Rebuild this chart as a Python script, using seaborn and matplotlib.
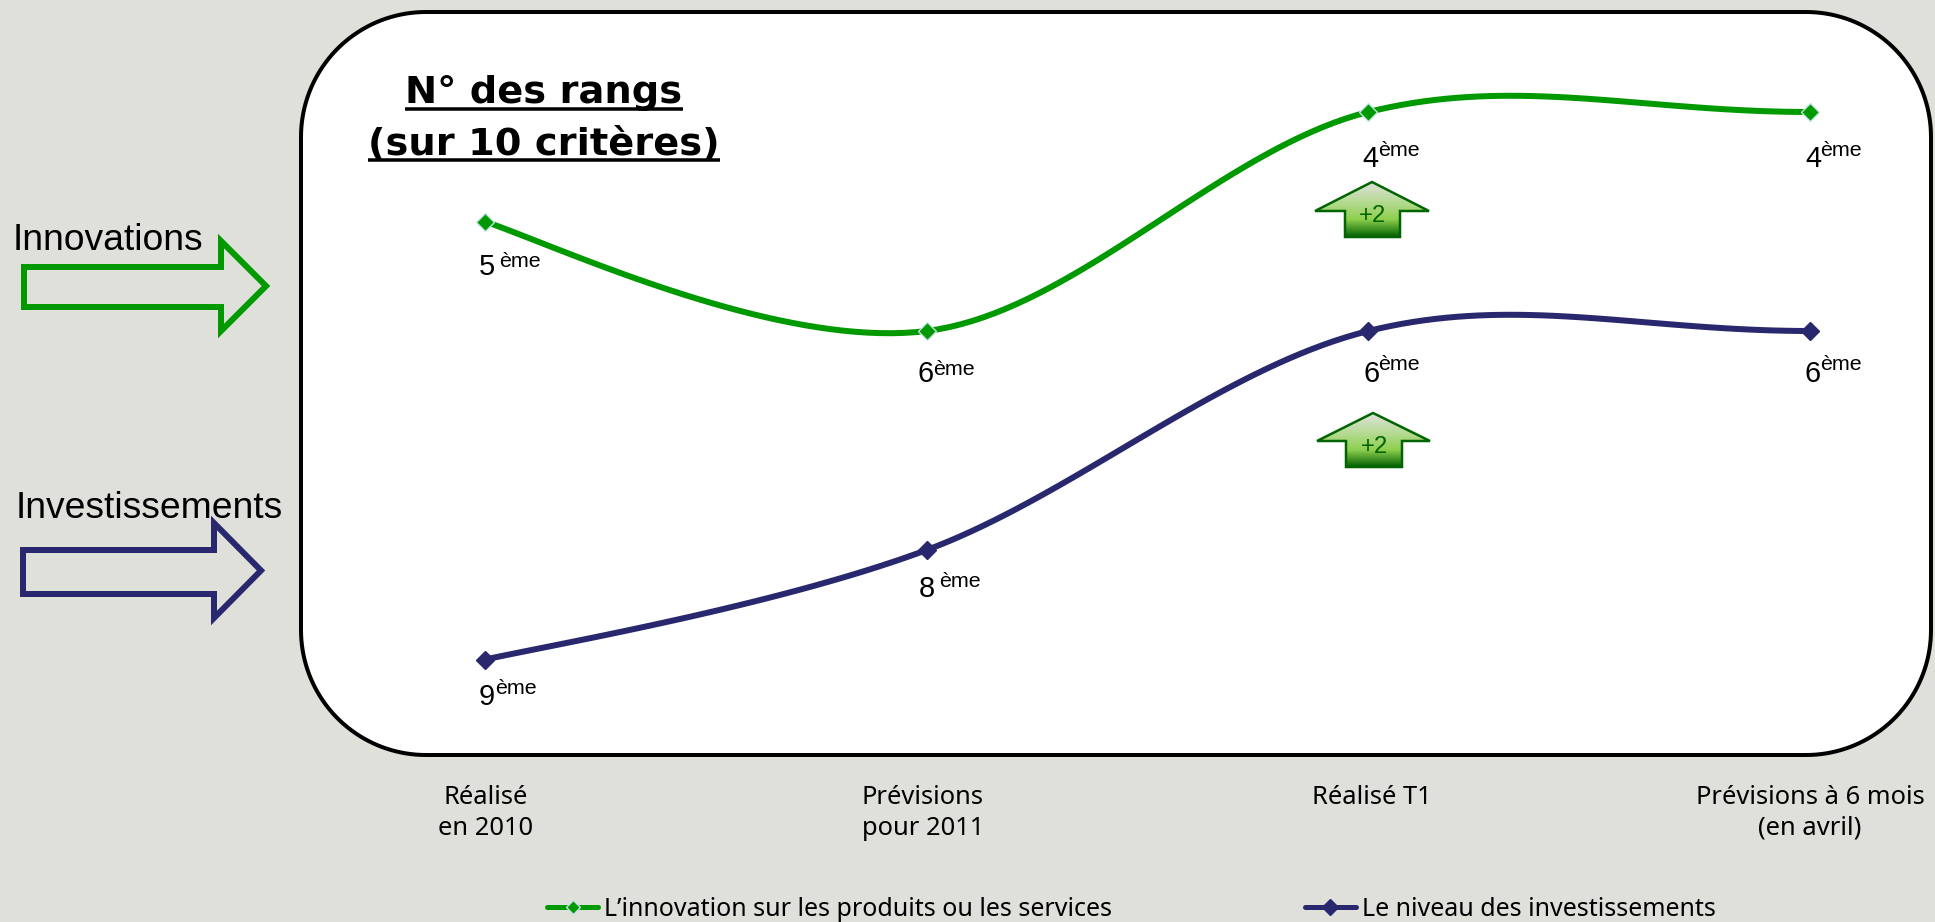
import numpy as np
import matplotlib
matplotlib.use("Agg")
import matplotlib.pyplot as plt
import seaborn as sns
from matplotlib.lines import Line2D
from matplotlib.patches import Polygon
from matplotlib.colors import LinearSegmentedColormap
from matplotlib.transforms import ScaledTranslation

categories = ["Réalisé\nen 2010", "Prévisions\npour 2011", "Réalisé T1", "Prévisions à 6 mois\n(en avril)"]
innovation_rank = [5, 6, 4, 4]
investment_rank = [9, 8, 6, 6]
series_names = ["L’innovation sur les produits ou les services", "Le niveau des investissements"]
rank_suffix = "ème"
gain_label = "+2"

W, H = 1935, 922
BG = "#DFE0DA"
GREEN = "#009900"
NAVY = "#29286F"
TAHOMA = "Noto Sans"
ARIAL = "Liberation Sans"


def px(v):
    return v * 0.72


def smooth(values, n=40):
    """Smoothed line through the values (office-chart style Bezier segments)."""
    y = np.asarray(values, float)
    x = np.arange(len(y), dtype=float)
    xs, ys = [], []
    t = np.linspace(0, 1, n)[:, None]
    pts = np.column_stack([x, y])
    last = len(pts) - 1
    for i in range(last):
        p1, p2 = pts[i], pts[i + 1]
        c1 = p1 + (p2 - pts[max(i - 1, 0)]) / 6
        c2 = p2 - (pts[min(i + 2, last)] - p1) / 6
        if i == 0:
            c1 = p1 + ((p2 - p1) / 6 + (c2 - p1) * 0.3) / 2
        if i == last - 1:
            c2 = np.array([p2[0] - 0.385, p2[1]])
        b = (1 - t) ** 3 * p1 + 3 * (1 - t) ** 2 * t * c1 + 3 * (1 - t) * t ** 2 * c2 + t ** 3 * p2
        xs.append(b[:, 0])
        ys.append(b[:, 1])
    return np.concatenate(xs), np.concatenate(ys)


sns.set_theme(style="white")
plt.rcParams["font.family"] = [TAHOMA]

fig = plt.figure(figsize=(W / 100, H / 100), dpi=100, facecolor=BG)

# decoration layer in pixel coordinates
deco = fig.add_axes([0, 0, 1, 1], zorder=1)
deco.set_xlim(0, W)
deco.set_ylim(H, 0)
deco.axis("off")


def rounded_outline(l, t, r_, b, rad, n=40):
    a = np.linspace(0, np.pi / 2, n)
    c, s = np.cos(a), np.sin(a)
    pts = []
    pts += list(zip(r_ - rad + rad * s, t + rad - rad * c))
    pts += list(zip(r_ - rad + rad * c, b - rad + rad * s))
    pts += list(zip(l + rad - rad * s, b - rad + rad * c))
    pts += list(zip(l + rad - rad * c, t + rad - rad * s))
    return pts


deco.add_patch(Polygon(rounded_outline(301, 12, 1931, 755, 125), closed=True,
                       fc="white", ec="black", lw=px(4)))


def block_arrow(left, tip, top, bottom, headx, headtop, headbot, color):
    mid = (headtop + headbot) / 2
    deco.add_patch(Polygon([(left, top), (headx, top), (headx, headtop), (tip, mid),
                            (headx, headbot), (headx, bottom), (left, bottom)],
                           closed=True, fc="none", ec=color, lw=px(6), joinstyle="miter"))


block_arrow(24, 266, 267, 307, 221, 241, 331, GREEN)
block_arrow(23, 261, 550, 594, 214, 523, 618, NAVY)

deco.text(13, 250, "Innovations", family=ARIAL, fontsize=px(37.2), color="black", ha="left", va="baseline")
deco.text(16, 518, "Investissements", family=ARIAL, fontsize=px(37.2), color="black", ha="left", va="baseline")

cmap = LinearSegmentedColormap.from_list("up", [(0, "#E0E1DE"), (0.35, "#B8DB98"), (0.68, "#8FD04F"), (1, "#006000")])
grad = np.linspace(0, 1, 256)[:, None]
for (ax_, tip_y, wing_y, bot_y, lx, rx, sl, sr, tx, ty) in [
    (1372, 182, 211, 237, 1315, 1429, 1345, 1400, 1373, 216),
    (1373, 413, 441, 467, 1317, 1430, 1346, 1402, 1375, 447),
]:
    poly = Polygon([(ax_, tip_y), (rx, wing_y), (sr, wing_y), (sr, bot_y), (sl, bot_y), (sl, wing_y), (lx, wing_y)],
                   closed=True, fc="none", ec="#006400", lw=px(2.5), joinstyle="miter", zorder=3)
    deco.add_patch(poly)
    im = deco.imshow(grad, extent=(lx, rx, bot_y, tip_y), cmap=cmap, aspect="auto", zorder=2)
    im.set_clip_path(poly)
    deco.text(tx, ty, gain_label, family=ARIAL, fontsize=px(24), color="#006400", ha="center", va="center", zorder=4)
deco.set_xlim(0, W)
deco.set_ylim(H, 0)

# title with underline drawn under each line
for txt, cy, uy in [("N° des rangs", 93, 109), ("(sur 10 critères)", 145, 160)]:
    t = deco.text(544, cy, txt, family="DejaVu Sans", fontweight="bold", fontsize=px(38.4), color="black",
                  ha="center", va="center")
    bb = t.get_window_extent(fig.canvas.get_renderer())
    deco.plot([bb.x0, bb.x1], [uy, uy], color="black", lw=px(3.5), solid_capstyle="butt")

# main chart axes, spanning the rounded box
x0, x1, ytop, ybot = 300, 1931, 12, 755
ax = fig.add_axes([x0 / W, 1 - ybot / H, (x1 - x0) / W, (ybot - ytop) / H], zorder=2)
ax.patch.set_alpha(0)
ux = (1810 - 485) / 3
uy = 109.5
ax.set_xlim((x0 - 485) / ux, (x1 - 485) / ux)
ax.set_ylim(4 + (ybot - 112) / uy, 4 + (ytop - 112) / uy)
for s in ax.spines.values():
    s.set_visible(False)
ax.set_yticks([])

for vals, color, edge in [(innovation_rank, GREEN, "#C4E2E4"), (investment_rank, NAVY, NAVY)]:
    cx, cy = smooth(vals)
    sns.lineplot(x=cx, y=cy, color=color, lw=px(6), sort=False, estimator=None, ax=ax, legend=False)
    ax.plot(range(len(vals)), vals, ls="none", marker="D", ms=px(13), mfc=color, mec=edge, mew=1, zorder=4)

ax.set_xlabel("")
ax.set_ylabel("")
ax.set_xticks(range(len(categories)))
ax.set_xticklabels(categories, fontsize=px(25.5), color="black", linespacing=1.3, va="top")
ax.tick_params(axis="x", length=0, pad=21.5)
for lab, dx in zip(ax.get_xticklabels(), [1, -4, 3, 0]):
    lab.set_transform(lab.get_transform() + ScaledTranslation(dx / 100, 0, fig.dpi_scale_trans))

# rank label offsets from the point, px: digit x, digit y, suffix x, suffix y
label_offsets = {
    "inn": [(-6, 53, 14, 45), (-9, 51, 6, 44), (-6, 55, 10, 44), (-5, 55, 10, 44)],
    "inv": [(-6, 45, 10, 34), (-8, 47, 12, 37), (-5, 51, 10, 39), (-6, 51, 10, 39)],
}
for key, vals in [("inn", innovation_rank), ("inv", investment_rank)]:
    for i, v in enumerate(vals):
        dx, dy, sx, sy = label_offsets[key][i]
        ax.annotate(str(v), (i, v), xytext=(px(dx), -px(dy)), textcoords="offset points",
                    family=ARIAL, fontsize=px(29), color="black", ha="left", va="baseline")
        ax.annotate(rank_suffix, (i, v), xytext=(px(sx), -px(sy)), textcoords="offset points",
                    family=ARIAL, fontsize=px(21.5), color="black", ha="left", va="baseline")

handles = [
    Line2D([], [], color=GREEN, lw=px(5), marker="D", ms=px(10), mfc=GREEN, mec="#C4E2E4", mew=1),
    Line2D([], [], color=NAVY, lw=px(5), marker="D", ms=px(11), mfc=NAVY, mec=NAVY, mew=1),
]
fig.legend(handles, series_names, ncol=2, frameon=False, loc="center left",
           bbox_to_anchor=(547 / W, 1 - 909.5 / H), borderpad=0, borderaxespad=0,
           prop={"family": TAHOMA, "size": px(25)},
           handlelength=2.04, handletextpad=0.25, columnspacing=7.7, labelcolor="black")

fig.savefig("out.png", dpi=100, facecolor=BG)
